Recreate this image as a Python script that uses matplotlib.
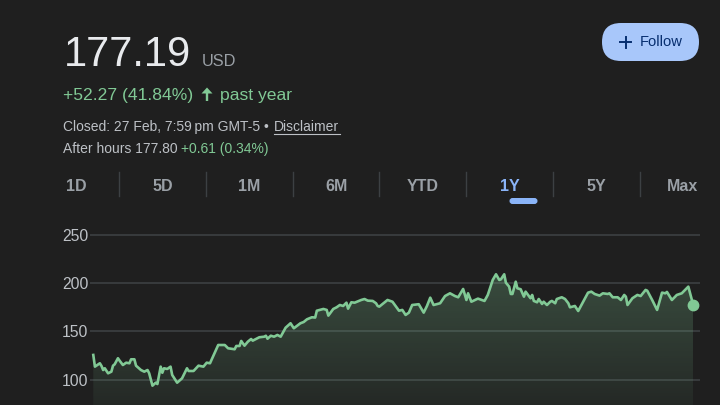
import numpy as np
import matplotlib
matplotlib.use("Agg")
import matplotlib.pyplot as plt
from matplotlib.patches import Polygon, FancyBboxPatch
from matplotlib.colors import to_rgb

plt.rcParams['font.family'] = ['Liberation Sans', 'DejaVu Sans']

# calendar days since start of the 1Y window, and closing price (USD)
day = [0, 1, 4, 5, 6, 7, 9, 11, 12, 13, 15, 16, 18, 20, 22, 23, 25, 26, 29, 31,
       33, 34, 36, 38, 39, 41, 42, 43, 45, 47, 48, 51, 54, 57, 58, 61, 64, 67, 69, 71,
       76, 80, 82, 86, 87, 89, 90, 92, 94, 96, 97, 101, 104, 105, 106, 108, 110, 112, 114, 117,
       120, 122, 126, 128, 130, 133, 135, 136, 140, 142, 143, 146, 148, 150, 152, 154, 155, 157, 159, 163,
       165, 167, 170, 172, 173, 174, 179, 182, 186, 188, 190, 192, 194, 198, 201, 203, 205, 207, 211, 214,
       217, 220, 222, 225, 227, 228, 230, 234, 238, 240, 243, 245, 247, 248, 250, 251, 253, 254, 255, 257,
       258, 260, 262, 263, 266, 267, 268, 270, 271, 273, 274, 276, 278, 279, 281, 282, 285, 287, 289, 290,
       293, 295, 298, 301, 303, 305, 308, 310, 313, 314, 316, 319, 321, 323, 324, 325, 328, 331, 333, 336,
       337, 340, 343, 346, 348, 349, 352, 355, 358, 362, 365]
price = [125.6, 113.5, 117.0, 114.2, 110.0, 111.8, 106.6, 108.3, 114.5, 115.9, 122.2, 119.7, 115.2, 117.6, 117.0, 121.1, 121.1, 114.5, 110.0, 108.3,
         110.0, 106.6, 93.8, 96.9, 95.5, 113.5, 107.2, 111.8, 111.1, 113.5, 104.9, 96.9, 101.4, 111.8, 109.0, 109.0, 114.5, 113.5, 117.6, 117.0,
         135.9, 135.9, 132.5, 131.5, 134.9, 134.9, 140.1, 135.2, 139.3, 142.1, 140.4, 143.9, 144.5, 145.5, 142.4, 145.5, 144.5, 146.3, 144.5, 153.8,
         158.4, 153.2, 158.4, 159.7, 162.5, 164.6, 164.3, 171.4, 173.2, 172.2, 166.3, 173.2, 174.9, 177.3, 176.3, 179.7, 173.5, 180.1, 179.7, 182.5,
         183.5, 181.8, 181.5, 179.1, 176.3, 175.6, 182.5, 180.7, 171.4, 172.2, 167.0, 169.4, 177.3, 178.1, 169.4, 176.3, 184.9, 177.3, 179.1, 186.6,
         189.4, 186.6, 185.3, 193.9, 182.5, 189.4, 180.7, 183.9, 181.5, 187.7, 203.2, 209.1, 203.2, 203.9, 209.1, 200.4, 196.3, 188.7, 188.7, 201.4,
         194.6, 193.6, 185.9, 191.1, 184.3, 187.7, 181.5, 180.1, 183.5, 178.4, 180.7, 177.3, 180.7, 181.5, 179.1, 183.5, 185.3, 183.5, 179.1, 174.9,
         176.3, 171.1, 180.7, 190.1, 191.1, 188.7, 187.0, 189.4, 188.7, 189.4, 185.3, 185.3, 182.5, 187.7, 185.9, 177.3, 184.3, 187.7, 186.6, 192.9,
         192.1, 182.5, 172.2, 190.1, 189.4, 190.8, 182.5, 187.7, 189.4, 196.3, 177.19]

yticks = [100, 150, 200, 250]
tabs = ["1D", "5D", "1M", "6M", "YTD", "1Y", "5Y", "Max"]
active_tab = "1Y"

BG = "#1f1f1f"
GREEN = "#81c995"
GREY = "#9aa0a6"
LIGHT = "#bdc1c6"
BLUE = "#8ab4f8"
GRID = "#3c4043"

W, H = 720, 405
fig = plt.figure(figsize=(W / 100, H / 100), dpi=100, facecolor=BG)

# overlay axes in pixel coords for the header
ov = fig.add_axes([0, 0, 1, 1])
ov.set_xlim(0, W)
ov.set_ylim(H, 0)
ov.axis("off")
ov.patch.set_alpha(0)

ov.text(64, 66, "177.19", fontsize=30, color="#e8eaed", va="baseline", ha="left")
ov.text(202, 66, "USD", fontsize=11.8, color=GREY, va="baseline", ha="left")
ov.text(63, 100, "+52.27 (41.84%)", fontsize=12.6, color=GREEN, va="baseline", ha="left")
# up arrow icon
ov.add_patch(Polygon([[207, 87.5], [201.5, 93.5], [205.8, 93.5], [205.8, 101],
                      [208.2, 101], [208.2, 93.5], [212.5, 93.5]],
                     closed=True, fc=GREEN, ec="none"))
ov.text(220, 100, "past year", fontsize=12.6, color=GREEN, va="baseline", ha="left")
ov.text(63, 131, "Closed: 27 Feb, 7:59\u2009pm GMT-5 \u2022", fontsize=10, color=LIGHT,
        va="baseline", ha="left")
ov.text(274, 131, "Disclaimer", fontsize=10, color=LIGHT, va="baseline", ha="left")
ov.plot([274, 340], [134, 134], color=LIGHT, lw=0.8)
ov.text(63, 153, "After hours 177.80", fontsize=10, color=LIGHT, va="baseline", ha="left")
ov.text(181, 153, "+0.61 (0.34%)", fontsize=10, color=GREEN, va="baseline", ha="left")

# follow button
btn = FancyBboxPatch((602, 23), 97, 38, boxstyle="round,pad=0,rounding_size=19",
                     fc="#a8c7fa", ec="none")
ov.add_patch(btn)
ov.plot([620, 631], [42, 42], color="#062e6f", lw=1.4)
ov.plot([625.5, 625.5], [36.5, 47.5], color="#062e6f", lw=1.4)
ov.text(640, 42, "Follow", fontsize=10.6, color="#062e6f", va="center", ha="left")

# range tabs
for i, t in enumerate(tabs):
    cx = 76 + 86.7 * i
    ov.text(cx, 191, t, fontsize=11.5, fontweight="bold",
            color=BLUE if t == active_tab else GREY, va="baseline", ha="center")
    if i > 0:
        sx = cx - 43.35
        ov.plot([sx, sx], [172, 196], color=GRID, lw=1)
ul = FancyBboxPatch((509.5, 198), 28, 6, boxstyle="round,pad=0,rounding_size=3",
                    fc=BLUE, ec="none")
ov.add_patch(ul)

# price chart
ylo, yhi = 73.8, 260.1
ax = fig.add_axes([90 / W, 0, 610 / W, 180 / H])
ax.set_facecolor("none")
ax.plot(day, price, color=GREEN, lw=1.9, solid_joinstyle="round", zorder=3)
ax.plot(day[-1], price[-1], "o", color=GREEN, ms=7.5, zorder=4)

poly = np.column_stack([np.r_[day[0], day, day[-1]], np.r_[ylo, price, ylo]])
clip = Polygon(poly, closed=True, fc="none", ec="none")
ax.add_patch(clip)
n = 256
grad = np.zeros((n, 1, 4))
grad[..., :3] = to_rgb(GREEN)
grad[:, 0, 3] = np.linspace(0.06, 0.27, n)
im = ax.imshow(grad, extent=[day[0], day[-1], ylo, 212], origin="lower",
               aspect="auto", zorder=2)
im.set_clip_path(clip)

ax.set_xlim(-2.0, 369.1)
ax.set_ylim(ylo, yhi)
ax.set_yticks(yticks)
ax.set_xticks([])
ax.grid(axis="y", color=GRID, lw=1.2, zorder=1)
ax.tick_params(axis="y", length=0, pad=1, labelcolor=LIGHT, labelsize=11.3)
for s in ax.spines.values():
    s.set_visible(False)

fig.savefig("out.png", dpi=100, facecolor=BG)
